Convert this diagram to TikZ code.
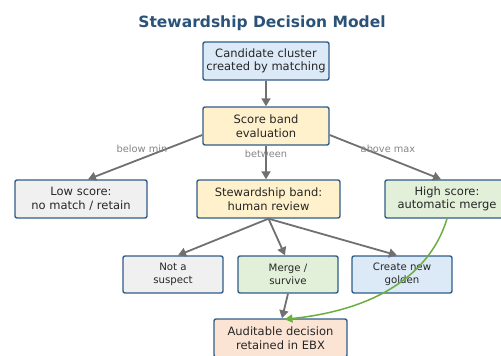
\documentclass[tikz,border=0pt]{standalone}
\usepackage{fontspec}
\setmainfont{DejaVu Sans}
\usetikzlibrary{arrows.meta,calc}
\definecolor{bordc}{HTML}{2F5D88}
\definecolor{titlec}{HTML}{2B5278}
\definecolor{txtc}{HTML}{262626}
\definecolor{fblue}{HTML}{DCE9F6}
\definecolor{fyellow}{HTML}{FFF1CC}
\definecolor{fgray}{HTML}{F0F0F0}
\definecolor{fgreen}{HTML}{E2EFD9}
\definecolor{fpeach}{HTML}{FCE4D4}
\definecolor{arrc}{HTML}{707070}
\definecolor{labc}{HTML}{858585}
\definecolor{grn}{HTML}{6AAF3D}
\tikzset{
  box/.style={draw=bordc, line width=1.4pt, rounded corners=2pt, align=center, inner sep=0pt,
    font=\fontsize{11.5}{13.5}\selectfont, text=txtc, minimum height=38pt},
  sbox/.style={box, font=\fontsize{10.2}{12.5}\selectfont, minimum height=37pt, minimum width=100pt},
  conn/.style={draw=arrc, line width=1.8pt, -{Triangle[length=8pt,width=9pt]}},
  gconn/.style={draw=grn, line width=1.5pt, -{Triangle[length=8pt,width=8pt]}},
  elab/.style={text=labc, font=\fontsize{9.8}{11}\selectfont, inner sep=0pt}
}
\begin{document}
\begin{tikzpicture}[x=1pt,y=-1pt]
\useasboundingbox (0,0) rectangle (501,356);
\node[text=titlec, font=\fontsize{15.5}{18}\selectfont\bfseries] (title) at (262,23) {Stewardship Decision Model};
\node[box, fill=fblue, minimum width=126pt] (cand) at (266,61) {Candidate cluster\\created by matching};
\node[box, fill=fyellow, minimum width=126pt] (score) at (266,126) {Score band\\evaluation};
\node[box, fill=fgray, minimum width=132pt] (low) at (81,199) {Low score:\\no match / retain};
\node[box, fill=fyellow, minimum width=143pt] (stew) at (268.5,199) {Stewardship band:\\human review};
\node[box, fill=fgreen, minimum width=124pt] (high) at (447,199) {High score:\\automatic merge};
\node[sbox, fill=fgray] (notsus) at (173,274.5) {Not a\\suspect};
\node[sbox, fill=fgreen] (merge) at (288,274.5) {Merge /\\survive};
\node[sbox, fill=fblue] (create) at (402,274.5) {Create new\\golden};
\node[box, fill=fpeach, minimum width=133pt] (audit) at (280.5,338) {Auditable decision\\retained in EBX};

\draw[conn] (cand.south) -- (score.north);
\draw[conn] ([yshift=-9pt]score.west) -- ([xshift=7pt]low.north);
\draw[conn] (score.south) -- (score.south |- stew.north);
\draw[conn] ([yshift=-9pt]score.east) -- ([xshift=-6pt]high.north);
\node[elab] (lb1) at (142,149) {below min};
\node[elab] (lb2) at (266,154) {between};
\node[elab] (lb3) at (388,149) {above max};
\draw[conn] (stew.south) -- ([xshift=5pt]notsus.north);
\draw[conn] (stew.south) -- ([xshift=-3pt]merge.north);
\draw[conn] (stew.south) -- ([xshift=-5pt]create.north);
\draw[conn] (merge.south) -- ([xshift=1.5pt]audit.north);
\draw[gconn] (high.south) .. controls (430,275) and (375,310) .. ([xshift=4pt,yshift=-1pt]audit.north);
\end{tikzpicture}
\end{document}
